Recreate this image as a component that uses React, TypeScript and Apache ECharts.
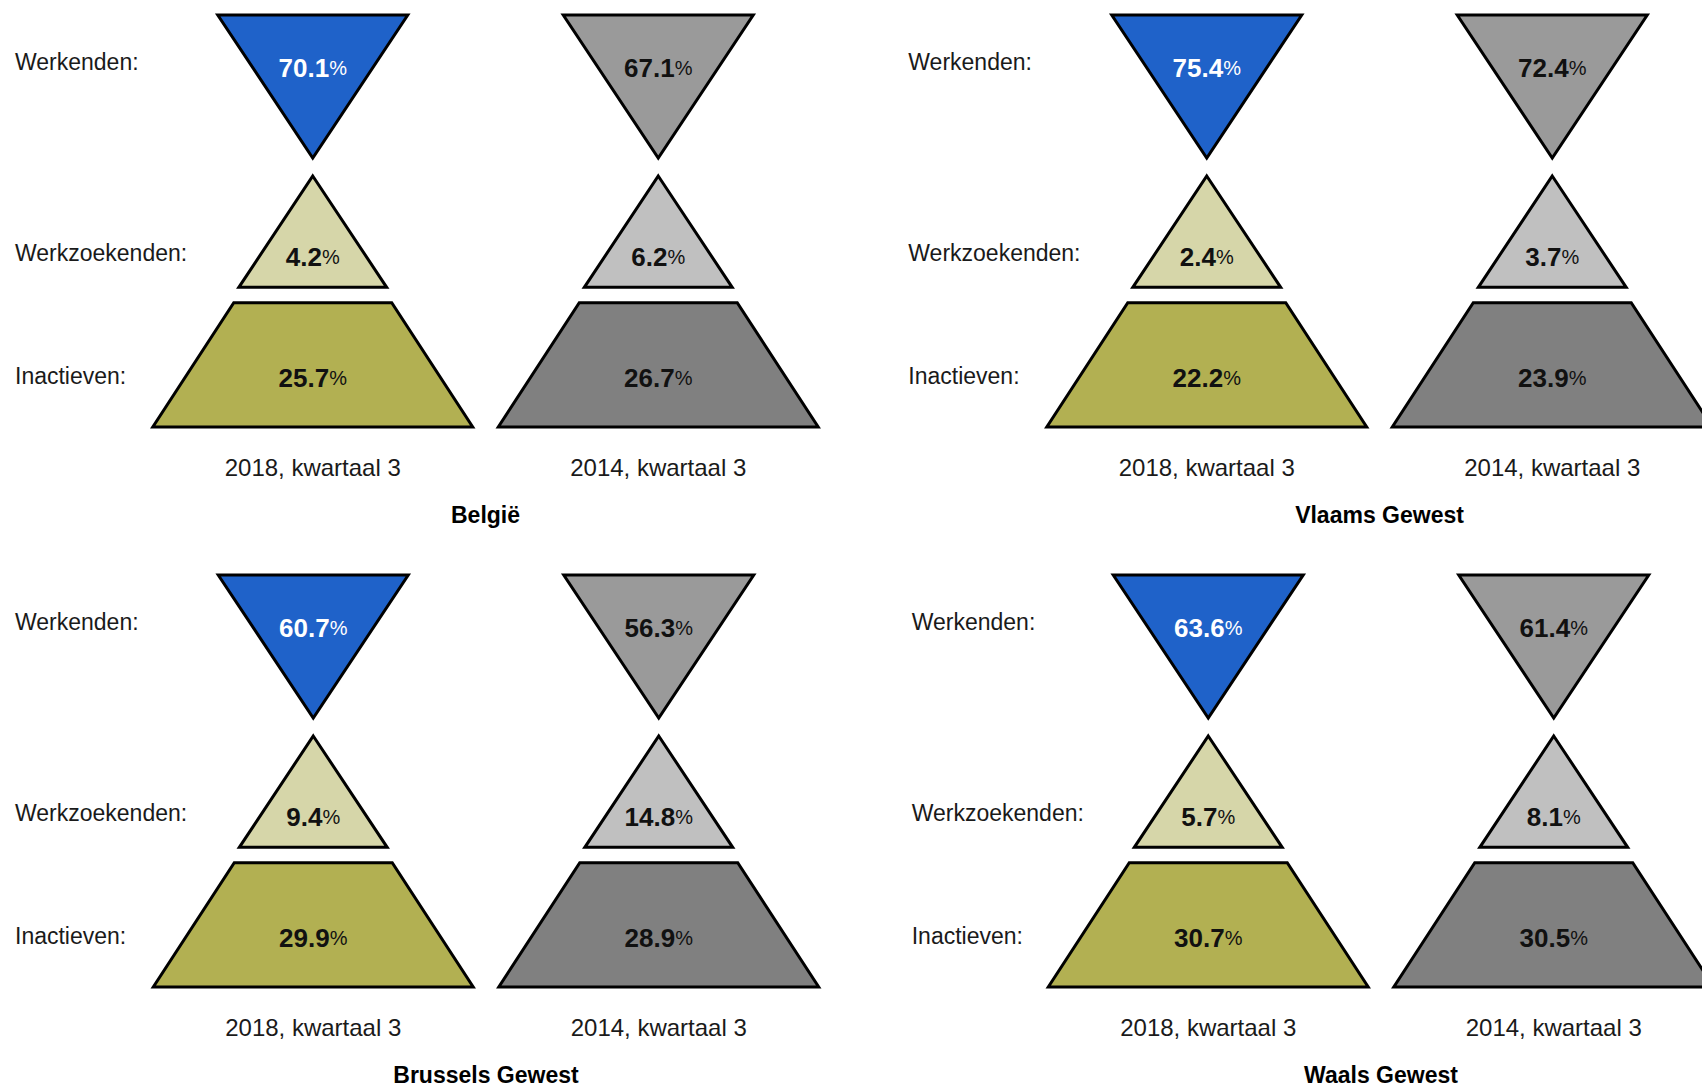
import React, { useEffect, useRef } from "react";
import * as echarts from "echarts";

const periods = ["2018, kwartaal 3", "2014, kwartaal 3"];
const categories = ["Werkenden:", "Werkzoekenden:", "Inactieven:"];
const regions = ["België", "Vlaams Gewest", "Brussels Gewest", "Waals Gewest"];

const belgie2018 = [70.1, 4.2, 25.7];
const belgie2014 = [67.1, 6.2, 26.7];
const vlaams2018 = [75.4, 2.4, 22.2];
const vlaams2014 = [72.4, 3.7, 23.9];
const brussels2018 = [60.7, 9.4, 29.9];
const brussels2014 = [56.3, 14.8, 28.9];
const waals2018 = [63.6, 5.7, 30.7];
const waals2014 = [61.4, 8.1, 30.5];

const regionValues = [
  [belgie2018, belgie2014],
  [vlaams2018, vlaams2014],
  [brussels2018, brussels2014],
  [waals2018, waals2014],
];

const currentColors = ["#1F62C9", "#D6D6A9", "#B2B052"];
const previousColors = ["#9A9A9A", "#C0C0C0", "#808080"];

const FONT = "'Liberation Sans', Arial, Helvetica, sans-serif";

// layout of the four panels (grids)
const panels = [
  { left: 140, top: 15, margin: 125 },
  { left: 1034, top: 15, margin: 125.7 },
  { left: 140.5, top: 575, margin: 125.5 },
  { left: 1035.5, top: 575, margin: 123.8 },
];
const GRID_W = 691;
const GRID_H = 412;

// shape geometry per row, in units of the category band size
const shapes = [
  { top: -0.5, bottom: 0.541, topHalf: 0.275, bottomHalf: 0, label: -0.114 },
  { top: -0.328, bottom: 0.483, topHalf: 0, bottomHalf: 0.214, label: 0.262 },
  { top: -0.405, bottom: 0.5, topHalf: 0.2286, bottomHalf: 0.463, label: 0.143 },
];

function buildOption() {
  const grid = panels.map((p) => ({
    left: p.left,
    top: p.top,
    width: GRID_W,
    height: GRID_H,
    containLabel: false,
  }));

  const xAxis = panels.map((_, i) => ({
    type: "category",
    gridIndex: i,
    data: periods,
    axisLine: { show: false },
    axisTick: { show: false },
    splitLine: { show: false },
    axisLabel: {
      margin: 28,
      fontSize: 24,
      lineHeight: 24,
      color: "#1a1a1a",
      fontFamily: FONT,
    },
  }));

  const labelStyle = { fontSize: 23, lineHeight: 23, color: "#1a1a1a", fontFamily: FONT };
  const yAxis = panels.map((p, i) => ({
    type: "category",
    gridIndex: i,
    inverse: true,
    data: categories,
    axisLine: { show: false },
    axisTick: { show: false },
    splitLine: { show: false },
    axisLabel: {
      align: "left",
      margin: p.margin,
      formatter: (v: string, idx: number) => `{r${idx}|${v}}`,
      rich: {
        r0: { ...labelStyle, padding: [0, 0, 43, 0] },
        r1: { ...labelStyle, padding: [63, 0, 0, 0] },
        r2: { ...labelStyle, padding: [35, 0, 0, 0] },
      },
    },
  }));

  const series = regionValues.map((vals, i) => {
    const data: number[][] = [];
    vals.forEach((arr, col) => {
      arr.forEach((v, row) => data.push([col, row, v]));
    });
    return {
      type: "custom",
      xAxisIndex: i,
      yAxisIndex: i,
      encode: { x: 0, y: 1 },
      data,
      clip: false,
      renderItem: (params: any, api: any) => {
        const col = api.value(0);
        const row = api.value(1);
        const v = api.value(2);
        const c = api.coord([col, row]);
        const sz = api.size([1, 1]);
        const cx = c[0];
        const cy = c[1];
        const bw = sz[0];
        const bh = sz[1];
        const s = shapes[row];
        const yT = cy + s.top * bh;
        const yB = cy + s.bottom * bh;
        const pts: number[][] = [];
        if (s.topHalf > 0) {
          pts.push([cx - s.topHalf * bw, yT], [cx + s.topHalf * bw, yT]);
        } else {
          pts.push([cx, yT]);
        }
        if (s.bottomHalf > 0) {
          pts.push([cx + s.bottomHalf * bw, yB], [cx - s.bottomHalf * bw, yB]);
        } else {
          pts.push([cx, yB]);
        }
        const fill = (col === 0 ? currentColors : previousColors)[row];
        const textFill = col === 0 && row === 0 ? "#ffffff" : "#111111";
        return {
          type: "group",
          children: [
            {
              type: "polygon",
              shape: { points: pts },
              style: { fill, stroke: "#000000", lineWidth: 3, lineJoin: "miter" },
            },
            {
              type: "text",
              x: cx,
              y: cy + s.label * bh,
              style: {
                text: `{v|${Number(v).toFixed(1)}}{p|%}`,
                align: "center",
                verticalAlign: "middle",
                rich: {
                  v: { fontSize: 26, fontWeight: "bold", fill: textFill, fontFamily: FONT },
                  p: { fontSize: 20, fill: textFill, fontFamily: FONT },
                },
              },
            },
          ],
        };
      },
    };
  });

  const title = panels.map((p, i) => ({
    text: regions[i],
    left: p.left + GRID_W / 2,
    top: p.top + 487.5,
    textAlign: "center",
    padding: 0,
    textStyle: {
      fontSize: 23,
      lineHeight: 24,
      fontWeight: "bold",
      color: "#000000",
      fontFamily: FONT,
    },
  }));

  return {
    animation: false,
    backgroundColor: "#ffffff",
    title,
    grid,
    xAxis,
    yAxis,
    series,
  };
}

export default function App() {
  const ref = useRef<HTMLDivElement>(null);
  useEffect(() => {
    document.body.style.margin = "0";
    document.body.style.overflow = "hidden";
    if (!ref.current) return;
    const chart = echarts.init(ref.current, undefined, { renderer: "svg" });
    chart.setOption(buildOption() as any);
    return () => {
      chart.dispose();
    };
  }, []);
  return (
    <div
      ref={ref}
      style={{ position: "absolute", left: 0, top: 0, width: 1760, height: 1086 }}
    />
  );
}
